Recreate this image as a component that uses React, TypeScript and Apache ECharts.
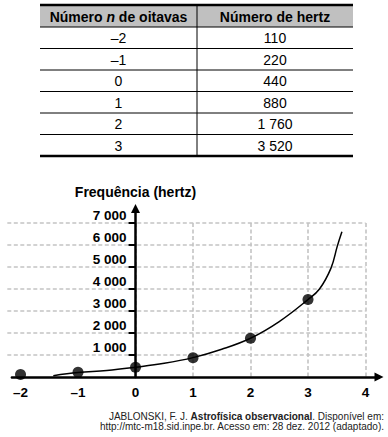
import React, { useEffect, useRef } from "react";
import * as echarts from "echarts";

// ---- data ----
const octaves = [-2, -1, 0, 1, 2, 3];
const hertz = [110, 220, 440, 880, 1760, 3520];
const xTickValues = [-2, -1, 0, 1, 2, 3, 4];
const yTickValues = [1000, 2000, 3000, 4000, 5000, 6000, 7000];
const gridXValues = [-1, 0, 1, 2, 3, 4];
// hand-drawn curve
const curveN = [-1.43, -1, -0.5, 0, 0.5, 1, 1.5, 2, 2.5, 3, 3.2, 3.4, 3.51, 3.59];
const curveHz = [60, 200, 290, 440, 620, 880, 1260, 1760, 2520, 3520, 4000, 4950, 5950, 6600];

const FONT = '"Liberation Sans", Arial, Helvetica, sans-serif';

const fmtN = (n: number) => (n < 0 ? `\u2013${-n}` : String(n));
const fmtHz = (v: number) =>
  v >= 1000 ? `${Math.floor(v / 1000)} ${String(v % 1000).padStart(3, "0")}` : String(v);

function buildTable() {
  const left = 40, right = 353, mid = 197, top = 5, headH = 22, rowH = 21.5;
  const bottom = top + headH + rowH * octaves.length;
  const els: any[] = [];
  els.push({ type: "rect", shape: { x: left, y: top, width: right - left, height: headH }, style: { fill: "#c0c0c0" } });
  els.push({ type: "line", shape: { x1: left, y1: top, x2: right, y2: top }, style: { stroke: "#000", lineWidth: 2.5 } });
  for (let i = 0; i < octaves.length; i++) {
    const y = top + headH + rowH * i;
    els.push({ type: "line", shape: { x1: left, y1: y, x2: right, y2: y }, style: { stroke: "#000", lineWidth: 1 } });
  }
  els.push({ type: "line", shape: { x1: left, y1: bottom, x2: right, y2: bottom }, style: { stroke: "#000", lineWidth: 2.5 } });
  els.push({ type: "line", shape: { x1: mid, y1: top, x2: mid, y2: bottom }, style: { stroke: "#000", lineWidth: 1 } });
  const c1 = (left + mid) / 2, c2 = (mid + right) / 2;
  els.push({
    type: "text", x: c1, y: top + headH / 2 + 1,
    style: {
      text: "{b|Número }{i|n}{b| de oitavas}", align: "center", verticalAlign: "middle",
      rich: {
        b: { fontFamily: FONT, fontWeight: "bold", fontSize: 14, fill: "#000" },
        i: { fontFamily: FONT, fontWeight: "bold", fontStyle: "italic", fontSize: 14, fill: "#000" },
      },
    },
  });
  els.push({
    type: "text", x: c2, y: top + headH / 2 + 1,
    style: { text: "Número de hertz", align: "center", verticalAlign: "middle", fontFamily: FONT, fontWeight: "bold", fontSize: 14, fill: "#000" },
  });
  octaves.forEach((n, i) => {
    const y = top + headH + rowH * i + rowH / 2 + 0.5;
    els.push({ type: "text", x: c1, y, style: { text: fmtN(n), align: "center", verticalAlign: "middle", fontFamily: FONT, fontSize: 14, fill: "#000" } });
    els.push({ type: "text", x: c2, y, style: { text: fmtHz(hertz[i]), align: "center", verticalAlign: "middle", fontFamily: FONT, fontSize: 14, fill: "#000" } });
  });
  // source
  els.push({
    type: "text", x: 384, y: 416,
    style: {
      text: "{n|JABLONSKI, F. J. }{b|Astrofísica observacional}{n|. Disponível em:}", align: "right", verticalAlign: "middle",
      rich: {
        n: { fontFamily: FONT, fontSize: 10, fill: "#222" },
        b: { fontFamily: FONT, fontSize: 10, fontWeight: "bold", fill: "#222" },
      },
    },
  });
  els.push({
    type: "text", x: 384, y: 426,
    style: { text: "http://mtc-m18.sid.inpe.br. Acesso em: 28 dez. 2012 (adaptado).", align: "right", verticalAlign: "middle", fontFamily: FONT, fontSize: 10, fill: "#222" },
  });
  return els;
}

export default function App() {
  const ref = useRef<HTMLDivElement>(null);
  useEffect(() => {
    if (!ref.current) return;
    const chart = echarts.init(ref.current, undefined, { renderer: "svg" });
    const gridLine = { color: "#c4c4c4", width: 1.6, type: [4, 2.5] as any };
    const axisLine = { color: "#000", width: 2.5 };
    const gb = { show: false, containLabel: false, outerBoundsMode: "none" };
    chart.setOption({
      animation: false,
      textStyle: { fontFamily: FONT },
      grid: [
        { ...gb, left: 7.3, width: 358.2, top: 223, height: 154 },
        { ...gb, left: 11.9, width: 367.1, top: 208.5, height: 168.5 },
        { ...gb, left: 135.5, width: 100, top: 208.5, height: 168.5 },
      ],
      xAxis: [
        {
          gridIndex: 0, type: "value", min: -2.23, max: 4,
          axisLine: { show: false }, axisTick: { show: false, customValues: gridXValues }, axisLabel: { show: false },
          splitLine: { show: true, showMinLine: false, lineStyle: gridLine },
        },
        {
          gridIndex: 1, type: "value", min: -2.15, max: 4.235,
          axisLine: { show: true, onZero: true, symbol: ["none", "triangle"], symbolSize: [9, 9], lineStyle: axisLine },
          axisTick: { show: false },
          axisLabel: { customValues: xTickValues, formatter: (v: number) => fmtN(v), fontFamily: FONT, fontWeight: "bold", fontSize: 13.5, color: "#000", margin: 8 },
          splitLine: { show: false },
        },
        { gridIndex: 2, type: "value", min: 0, max: 1, show: false },
      ],
      yAxis: [
        {
          gridIndex: 0, type: "value", min: 0, max: 7000, interval: 1000,
          axisLine: { show: false }, axisTick: { show: false }, axisLabel: { show: false },
          splitLine: { show: true, showMinLine: false, lineStyle: gridLine },
        },
        {
          gridIndex: 1, type: "value", min: 0, max: 7659,
          axisLine: { show: false }, axisTick: { show: false }, axisLabel: { show: false }, splitLine: { show: false },
        },
        {
          gridIndex: 2, type: "value", min: 0, max: 7659, position: "left",
          axisLine: { show: true, onZero: false, symbol: ["none", "triangle"], symbolSize: [9, 9], lineStyle: axisLine },
          axisTick: { show: true, customValues: yTickValues, length: 7, lineStyle: { color: "#000", width: 2 } },
          axisLabel: { customValues: yTickValues, formatter: (v: number) => fmtHz(v), fontFamily: FONT, fontWeight: "bold", fontSize: 13.5, color: "#000", margin: 9, verticalAlign: "bottom" },
          splitLine: { show: false },
          name: "Frequência (hertz)", nameLocation: "end", nameGap: 10,
          nameTextStyle: { fontFamily: FONT, fontWeight: "bold", fontSize: 14, color: "#000" },
        },
      ],
      series: [
        {
          type: "line", xAxisIndex: 1, yAxisIndex: 1, smooth: 0.4, showSymbol: false,
          lineStyle: { color: "#000", width: 1.5 },
          data: curveN.map((n, i) => [n, curveHz[i]]),
          z: 3,
        },
        {
          type: "scatter", xAxisIndex: 1, yAxisIndex: 1, symbolSize: 11,
          itemStyle: { color: "#000" },
          data: octaves.map((n, i) => [n, hertz[i]]),
          z: 4,
        },
      ],
      graphic: buildTable(),
    });
    return () => chart.dispose();
  }, []);
  return <div ref={ref} style={{ position: "absolute", left: 0, top: 0, width: 388, height: 437 }} />;
}
